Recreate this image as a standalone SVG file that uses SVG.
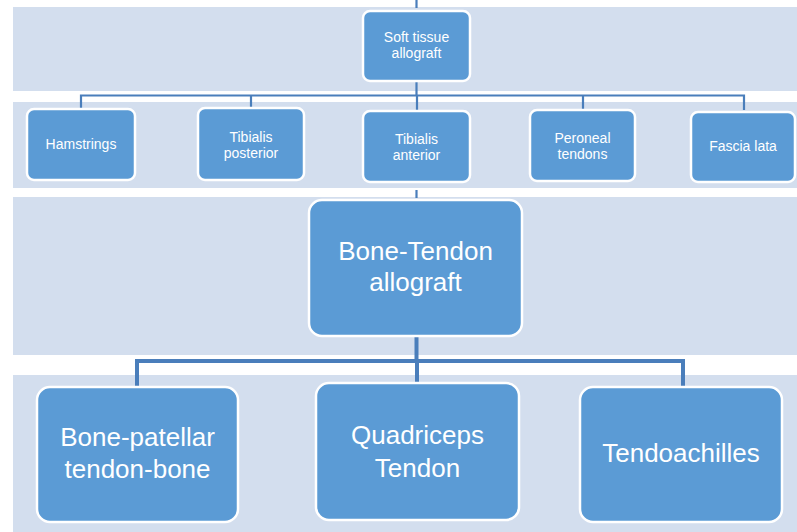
<svg xmlns="http://www.w3.org/2000/svg" width="797" height="532" viewBox="0 0 797 532">
<style>
.band{fill:#D3DEEE}
.box{fill:#5B9BD5;stroke:#FFFFFF;stroke-width:2.5}
.t{fill:#FFFFFF;font-family:"Liberation Sans",Arial,sans-serif;text-anchor:middle}
.s{font-size:14px}
.l{font-size:26px}
.c1{stroke:#4A7EBB;stroke-width:2.2;fill:none}
.c2{stroke:#4A7EBB;stroke-width:4;fill:none}
</style>
<rect width="797" height="532" fill="#FFFFFF"/>
<g id="bands">
<rect class="band" x="13" y="7" width="784" height="84"/>
<rect class="band" x="13" y="102" width="784" height="86"/>
<rect class="band" x="13" y="197" width="784" height="158"/>
<rect class="band" x="13" y="375" width="784" height="157"/>
</g>
<g id="connectors">
<line class="c1" x1="416.5" y1="0" x2="416.5" y2="8"/>
<path class="c1" d="M416.5 81 V95.5 M81 108 V95.5 H744 V110 M251 108 V95.5 M417 111 V95.5 M583 110 V95.5"/>
<line class="c1" x1="416.5" y1="190" x2="416.5" y2="198"/>
<path class="c2" d="M416.5 336 V361 M137 386 V361 H683 V386 M417 383 V361"/>
</g>
<g id="soft-tissue">
<rect class="box" x="363" y="11" width="107" height="70" rx="7"/>
<text class="t s" x="416.5" y="42">Soft tissue</text>
<text class="t s" x="416.5" y="58">allograft</text>
</g>
<g id="hamstrings">
<rect class="box" x="27" y="109" width="108" height="71" rx="7"/>
<text class="t s" x="81" y="149">Hamstrings</text>
</g>
<g id="tibialis-posterior">
<rect class="box" x="198" y="108" width="106" height="72" rx="7"/>
<text class="t s" x="251" y="142">Tibialis</text>
<text class="t s" x="251" y="158">posterior</text>
</g>
<g id="tibialis-anterior">
<rect class="box" x="363" y="111" width="107" height="71" rx="7"/>
<text class="t s" x="416.5" y="144">Tibialis</text>
<text class="t s" x="416.5" y="160">anterior</text>
</g>
<g id="peroneal-tendons">
<rect class="box" x="530" y="110" width="105" height="71" rx="7"/>
<text class="t s" x="582.5" y="143">Peroneal</text>
<text class="t s" x="582.5" y="159">tendons</text>
</g>
<g id="fascia-lata">
<rect class="box" x="691" y="112" width="104" height="70" rx="7"/>
<text class="t s" x="743" y="151">Fascia lata</text>
</g>
<g id="bone-tendon">
<rect class="box" x="309" y="200" width="213" height="136" rx="13"/>
<text class="t l" x="415.5" y="260">Bone-Tendon</text>
<text class="t l" x="415.5" y="291">allograft</text>
</g>
<g id="bone-patellar">
<rect class="box" x="37" y="387" width="201" height="135" rx="13"/>
<text class="t l" x="137.5" y="446">Bone-patellar</text>
<text class="t l" x="137.5" y="478">tendon-bone</text>
</g>
<g id="quadriceps">
<rect class="box" x="316" y="383" width="203" height="137" rx="13"/>
<text class="t l" x="417.5" y="444">Quadriceps</text>
<text class="t l" x="417.5" y="477">Tendon</text>
</g>
<g id="tendoachilles">
<rect class="box" x="580" y="387" width="202" height="135" rx="13"/>
<text class="t l" x="681" y="462">Tendoachilles</text>
</g>
</svg>
